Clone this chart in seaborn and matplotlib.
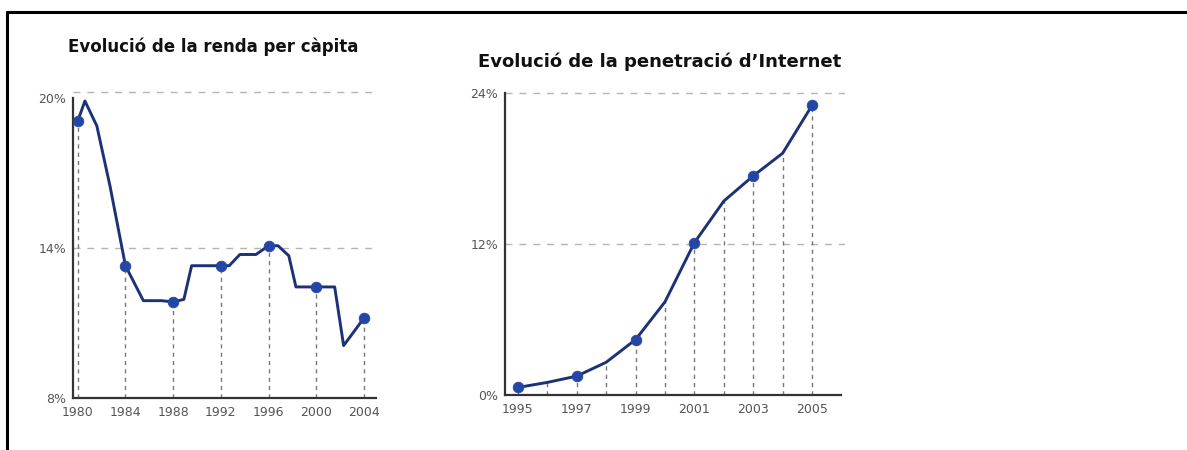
import matplotlib
matplotlib.use("Agg")
import matplotlib.pyplot as plt
import seaborn as sns
import pandas as pd
from matplotlib.lines import Line2D

# --- DADES ---
renda_anys = [1980, 1980.6, 1981.6, 1982.7, 1984, 1985.5, 1987, 1988, 1988.9, 1989.55,
              1992, 1992.7, 1993.6, 1994.95, 1996, 1996.8, 1997.7, 1998.3,
              2000, 2001.55, 2002.3, 2004]
renda_valors = [19.1, 19.9, 18.9, 16.5, 13.3, 11.9, 11.9, 11.85, 11.95, 13.3,
                13.3, 13.3, 13.75, 13.75, 14.1, 14.1, 13.7, 12.45,
                12.45, 12.45, 10.1, 11.2]
renda_marques = [1980, 1984, 1988, 1992, 1996, 2000, 2004]

internet_anys = [1995, 1996, 1997, 1998, 1999, 2000, 2001, 2002, 2003, 2004, 2005]
internet_valors = [0.6, 1.0, 1.5, 2.6, 4.4, 7.4, 12.1, 15.4, 17.4, 19.2, 23.0]
internet_marques = [1995, 1997, 1999, 2001, 2003, 2005]

sns.set_style("white")
plt.rcParams['font.family'] = ['DejaVu Sans']

COLOR_LINIA = "#1c3276"
COLOR_PUNT = "#2446a6"
COLOR_TEXT = "#555555"
COLOR_EIX = "#333333"
COLOR_GUIA = "#b5b5b5"
COLOR_VERT = "#777777"

fig = plt.figure(figsize=(11.87, 4.5), dpi=100)

# vora negra (només dalt i esquerra visibles)
fig.add_artist(Line2D([7/1187, 1.01], [1 - 12/450, 1 - 12/450], transform=fig.transFigure, color="black", lw=2.2))
fig.add_artist(Line2D([7/1187, 7/1187], [-0.01, 1 - 12/450], transform=fig.transFigure, color="black", lw=2.2))


def estil_eixos(ax, xmin, xmax, ymin, ymax):
    for s in ["top", "right"]:
        ax.spines[s].set_visible(False)
    for s in ["left", "bottom"]:
        ax.spines[s].set_color(COLOR_EIX)
        ax.spines[s].set_linewidth(1.6)
    ax.spines["left"].set_bounds(ymin, ymax)
    ax.spines["bottom"].set_bounds(xmin, xmax)
    ax.tick_params(axis="both", direction="in", length=6, width=1.6, color=COLOR_EIX,
                   labelcolor=COLOR_TEXT, labelsize=9)
    ax.tick_params(axis="x", pad=6)
    ax.tick_params(axis="y", pad=5)
    ax.set_xlabel("")
    ax.set_ylabel("")
    ax.patch.set_alpha(0)


# --- 1. RENDA PER CÀPITA ---
ax1 = fig.add_axes([73/1187, 1 - 398/450, 304/1187, 307/450])
ax1.set_xlim(1979.6, 2005.1)
ax1.set_ylim(8, 20.3)

ax1.axhline(14, color=COLOR_GUIA, ls=(0, (5, 5)), lw=1, zorder=1)
ax1.axhline(20.25, color=COLOR_GUIA, ls=(0, (5, 5)), lw=1, zorder=1, clip_on=False)
for any_ in renda_marques:
    v = renda_valors[renda_anys.index(any_)]
    ax1.plot([any_, any_], [8, v], color=COLOR_VERT, ls=(0, (3, 3)), lw=1, zorder=1)

df_renda = pd.DataFrame({"any": renda_anys, "valor": renda_valors})
sns.lineplot(data=df_renda, x="any", y="valor", ax=ax1, color=COLOR_LINIA, lw=2.1, zorder=3,
             estimator=None, sort=False)
df_renda_m = df_renda[df_renda["any"].isin(renda_marques)]
sns.scatterplot(data=df_renda_m, x="any", y="valor", ax=ax1, color=COLOR_PUNT, s=58,
                edgecolor=COLOR_PUNT, zorder=4)

estil_eixos(ax1, 1979.6, 2005.0, 8, 20)
ax1.set_xticks(renda_marques + [2005.0])
ax1.set_xticklabels([str(a) for a in renda_marques] + [""])
ax1.set_yticks([8, 14, 20])
ax1.set_yticklabels(["8%", "14%", "20%"])

fig.text(68/1187, 1 - 47/450, "Evolució de la renda per càpita", fontsize=12,
         fontweight="bold", color="#111111", ha="left", va="center")

# --- 2. PENETRACIÓ D'INTERNET ---
ax2 = fig.add_axes([505/1187, 1 - 395/450, 340/1187, 306/450])
ax2.set_xlim(1994.56, 2006.12)
ax2.set_ylim(0, 24.3)

ax2.axhline(12, color=COLOR_GUIA, ls=(0, (5, 5)), lw=1, zorder=1)
ax2.axhline(24, color=COLOR_GUIA, ls=(0, (5, 5)), lw=1, zorder=1)
for any_, v in zip(internet_anys, internet_valors):
    ax2.plot([any_, any_], [0, v], color=COLOR_VERT, ls=(0, (3, 3)), lw=1, zorder=1)

df_int = pd.DataFrame({"any": internet_anys, "valor": internet_valors})
sns.lineplot(data=df_int, x="any", y="valor", ax=ax2, color=COLOR_LINIA, lw=2.1, zorder=3)
df_int_m = df_int[df_int["any"].isin(internet_marques)]
sns.scatterplot(data=df_int_m, x="any", y="valor", ax=ax2, color=COLOR_PUNT, s=58,
                edgecolor=COLOR_PUNT, zorder=4)

estil_eixos(ax2, 1994.56, 2006.0, 0, 24)
ax2.set_xticks(internet_marques + [2006.0])
ax2.set_xticklabels([str(a) for a in internet_marques] + [""])
ax2.set_yticks([0, 12, 24])
ax2.set_yticklabels(["0%", "12%", "24%"])

fig.text(478/1187, 1 - 62/450, "Evolució de la penetració d\u2019Internet", fontsize=13,
         fontweight="bold", color="#111111", ha="left", va="center")

fig.savefig("out.png", dpi=100, facecolor="white")
